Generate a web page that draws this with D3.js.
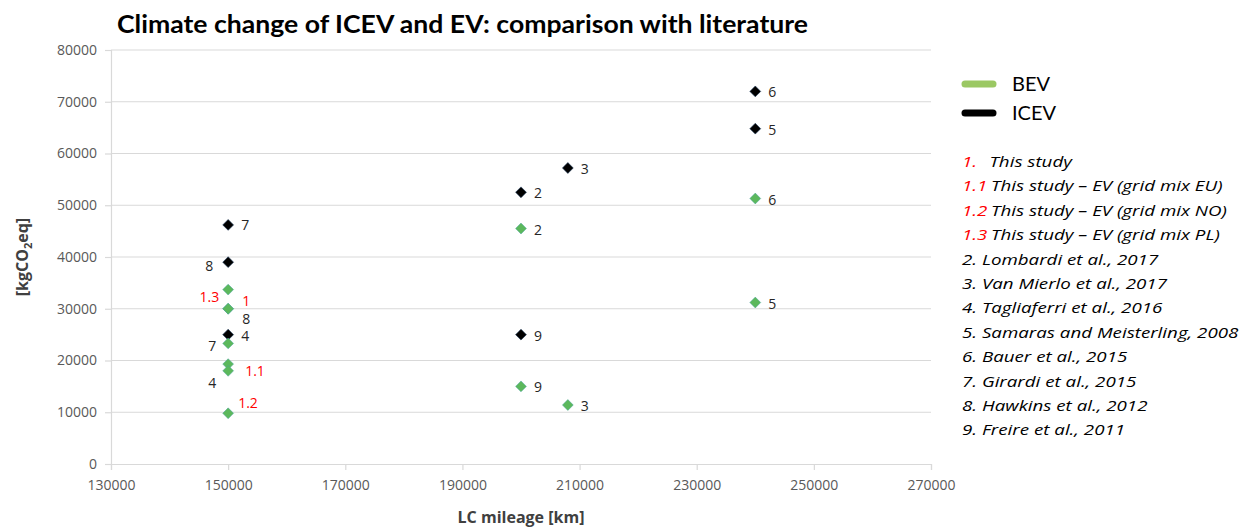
<!DOCTYPE html>
<html>
<head>
<meta charset="utf-8">
<script src="https://cdn.jsdelivr.net/npm/d3@7"></script>
<style>
  body { margin: 0; background: #fff; }
  svg { display: block; font-family: "Open Sans", Lato, sans-serif; }
</style>
</head>
<body>
<svg id="chart" width="1239" height="529"></svg>
<script>
// ---- data ----
const icevMileage = [150000, 150000, 150000, 200000, 208000, 200000, 240000, 240000];
const icevCO2     = [46200, 39000, 25000, 52500, 57200, 25000, 72000, 64800];
const icevLabels  = ["7", "8", "4", "2", "3", "9", "6", "5"];

const bevMileage = [150000, 150000, 150000, 150000, 150000, 150000, 150000, 200000, 200000, 208000, 240000, 240000];
const bevCO2     = [33700, 30000, 30000, 23300, 19300, 18000, 9800, 45500, 15000, 11400, 51300, 31200];
const bevLabels  = ["1.3", "1", "8", "7", "1.1", "4", "1.2", "2", "9", "3", "6", "5"];

const xTicks = [130000, 150000, 170000, 190000, 210000, 230000, 250000, 270000];
const yTicks = [0, 10000, 20000, 30000, 40000, 50000, 60000, 70000, 80000];

const seriesNames = ["BEV", "ICEV"];
const studyCodes = ["1.", "1.1", "1.2", "1.3", "2.", "3.", "4.", "5.", "6.", "7.", "8.", "9."];
const studyNames = ["This study", "This study – EV (grid mix EU)", "This study – EV (grid mix NO)",
  "This study – EV (grid mix PL)", "Lombardi  et al., 2017", "Van Mierlo et al., 2017",
  "Tagliaferri et al., 2016", "Samaras  and Meisterling, 2008", "Bauer et al., 2015",
  "Girardi et al., 2015", "Hawkins et al., 2012", "Freire et al., 2011"];

// ---- label placement (style, not data): [dx, dy, anchor] ----
const icevLabelPos = {
  "7": [13, 5, "start"], "8": [-15, 9, "end"], "4": [13, 6, "start"],
  "2": [13, 6, "start"], "3": [13, 6, "start"], "9": [13, 6, "start"],
  "6": [13, 6, "start"], "5": [13, 6, "start"]
};
const bevLabelPos = {
  "1.3": [-9, 12, "end"], "1": [14, -3, "start"], "8": [14, 15, "start"],
  "7": [-12, 8, "end"], "1.1": [17, 12, "start"], "4": [-12, 17, "end"],
  "1.2": [10, -5, "start"], "2": [13, 6, "start"], "9": [13, 6, "start"],
  "3": [13, 6, "start"], "6": [13, 6, "start"], "5": [13, 6, "start"]
};

const GREEN = "#5cb85c";
const LEGEND_GREEN = "#9bc863";
const BLACK = "#000";
const RED = "#ff0000";

const svg = d3.select("#chart");
const x = d3.scaleLinear().domain([130000, 270000]).range([111, 931]);
const y = d3.scaleLinear().domain([0, 80000]).range([464, 50]);

// grid
svg.append("g").selectAll("line").data(yTicks.filter(d => d > 0)).join("line")
  .attr("x1", x(130000)).attr("x2", x(270000))
  .attr("y1", d => y(d)).attr("y2", d => y(d))
  .attr("stroke", "#d9d9d9").attr("stroke-width", 1.2);

// axes
const xAxis = svg.append("g").attr("transform", `translate(0,${y(0)})`)
  .call(d3.axisBottom(x).tickValues(xTicks).tickFormat(d3.format("d")).tickSize(6).tickPadding(10));
const yAxis = svg.append("g").attr("transform", `translate(${x(130000)},0)`)
  .call(d3.axisLeft(y).tickValues(yTicks).tickFormat(d3.format("d")).tickSize(6).tickPadding(8));
[xAxis, yAxis].forEach(g => {
  g.select(".domain").attr("stroke", "#d9d9d9").attr("stroke-width", 1.2);
  g.selectAll(".tick line").attr("stroke", "#d9d9d9").attr("stroke-width", 1.2);
  g.selectAll(".tick text").attr("fill", "#595959").style("font-size", "14px").style("font-family", "'Open Sans', sans-serif");
});

const diamond = d3.symbol().type(d3.symbolDiamond2).size(75);

const icev = icevMileage.map((m, i) => ({ x: m, y: icevCO2[i], label: icevLabels[i] }));
const bev = bevMileage.map((m, i) => ({ x: m, y: bevCO2[i], label: bevLabels[i] }));

svg.append("g").selectAll("path").data(icev).join("path")
  .attr("d", diamond)
  .attr("transform", d => `translate(${x(d.x)},${y(d.y)})`)
  .attr("fill", BLACK).attr("stroke", "#1f3b5a").attr("stroke-width", 0.6);

svg.append("g").selectAll("path").data(bev).join("path")
  .attr("d", diamond)
  .attr("transform", d => `translate(${x(d.x)},${y(d.y)})`)
  .attr("fill", GREEN).attr("stroke", "#4aa3a0").attr("stroke-width", 0.5);

// point labels
function drawLabels(data, pos) {
  svg.append("g").selectAll("text").data(data).join("text")
    .attr("x", d => x(d.x) + pos[d.label][0])
    .attr("y", d => y(d.y) + pos[d.label][1])
    .attr("text-anchor", d => pos[d.label][2])
    .attr("fill", d => d.label[0] === "1" ? RED : "#262626")
    .style("font-size", "14px")
    .text(d => d.label);
}
drawLabels(icev, icevLabelPos);
drawLabels(bev, bevLabelPos);

// title
svg.append("text").attr("x", 117).attr("y", 33)
  .attr("textLength", 691).attr("lengthAdjust", "spacingAndGlyphs")
  .style("font-family", "Lato, sans-serif")
  .style("font-size", "25px").style("font-weight", "bold").attr("fill", "#000")
  .text("Climate change of ICEV and EV: comparison with literature");

// axis titles
svg.append("text").attr("x", (x(130000) + x(270000)) / 2).attr("y", 523)
  .attr("text-anchor", "middle").style("font-size", "16px").style("font-weight", "bold").attr("fill", "#404040")
  .text("LC mileage [km]");

const yt = svg.append("text").attr("transform", `translate(28,${(y(0) + y(80000)) / 2}) rotate(-90)`)
  .attr("text-anchor", "middle").style("font-size", "16px").style("font-weight", "bold").attr("fill", "#404040");
yt.append("tspan").text("[kgCO");
yt.append("tspan").attr("dy", 4).style("font-size", "11px").text("2");
yt.append("tspan").attr("dy", -4).text("eq]");

// legend: series
const sColors = [LEGEND_GREEN, BLACK];
const leg = svg.append("g");
seriesNames.forEach((s, i) => {
  const yy = 84 + i * 29;
  leg.append("line").attr("x1", 965).attr("x2", 993).attr("y1", yy).attr("y2", yy)
    .attr("stroke", sColors[i]).attr("stroke-width", 7).attr("stroke-linecap", "round");
  leg.append("text").attr("x", 1012).attr("y", yy + 7)
    .style("font-family", "Lato, sans-serif").style("font-size", "20px").attr("fill", "#000").text(s);
});

// legend: studies (horizontally stretched to match reference)
const list = svg.append("g").attr("transform", "translate(962,0) scale(1.25,1)");
studyCodes.forEach((c, i) => {
  const yy = 167 + i * 24.4;
  const isThis = i < 4;
  const t = list.append("text").attr("x", 0).attr("y", yy).style("font-size", "15px")
    .style("font-style", "italic").attr("fill", "#000");
  if (isThis) {
    t.append("tspan").attr("fill", RED).text(c);
    t.append("tspan").attr("dx", i === 0 ? 10 : 3).text(studyNames[i]);
  } else {
    t.text(c + " " + studyNames[i]);
  }
});
</script>
</body>
</html>
